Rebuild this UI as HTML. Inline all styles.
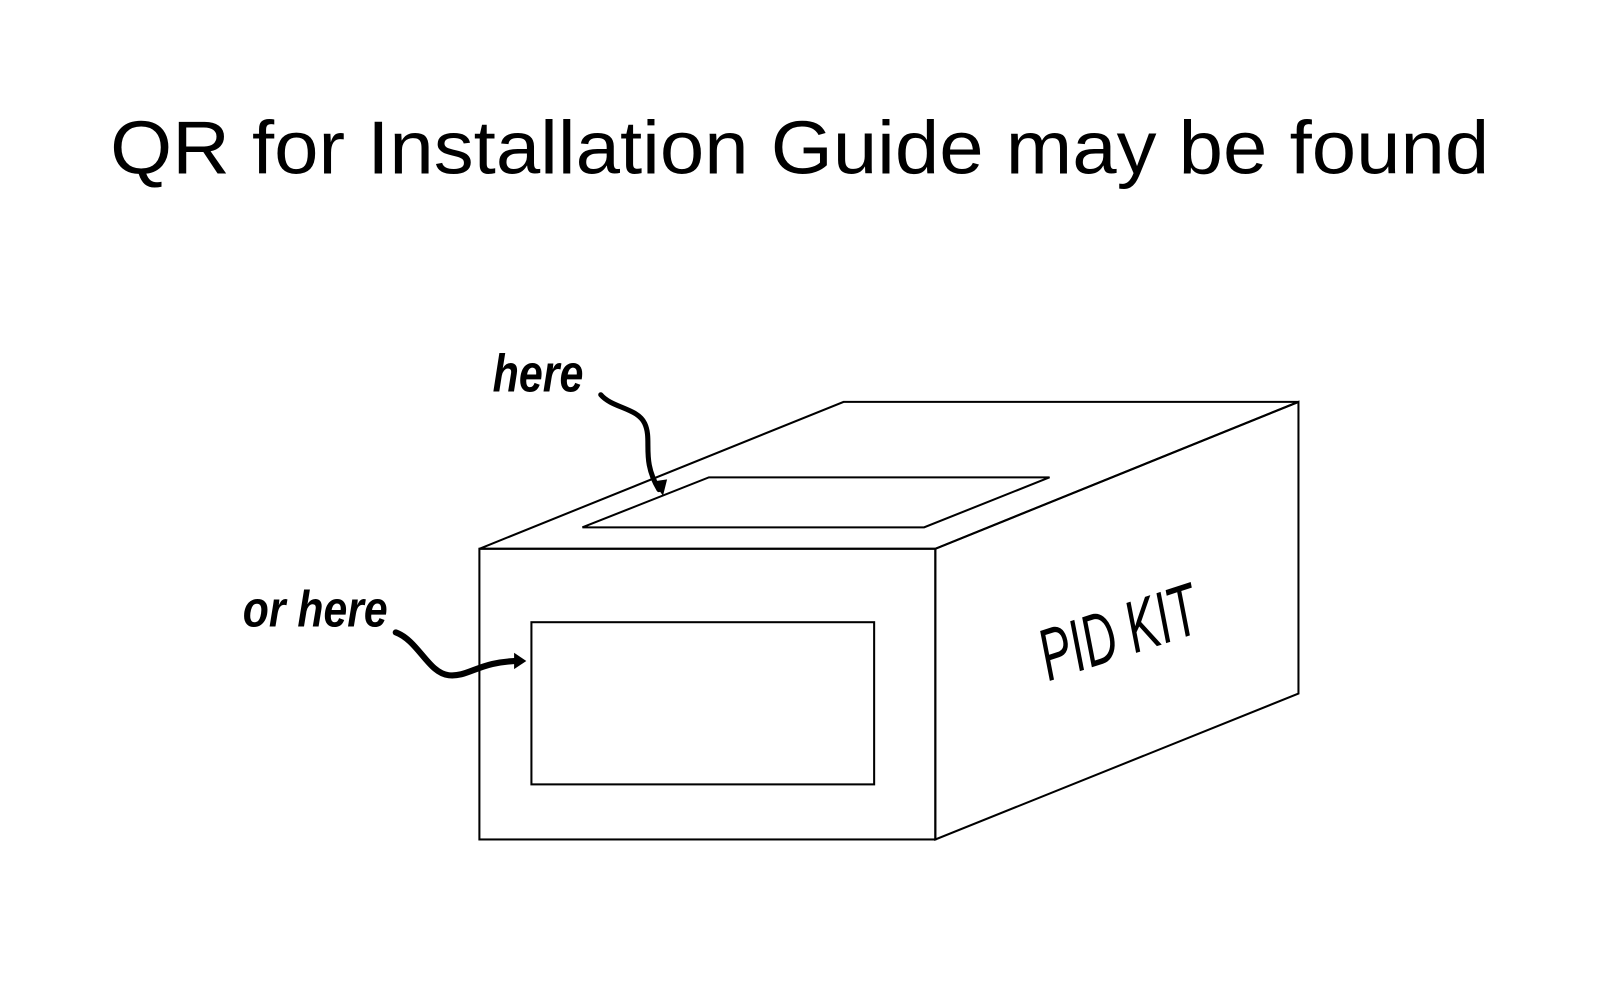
<!DOCTYPE html>
<html><head><meta charset="utf-8"><style>html,body{margin:0;padding:0;background:#fff}svg{display:block}</style></head>
<body>
<svg width="1600" height="997" viewBox="0 0 1600 997" xmlns="http://www.w3.org/2000/svg">
<g transform="scale(1.02)">
<text x="108" y="170" font-family="Liberation Sans Narrow, Liberation Sans, sans-serif" font-size="74" textLength="1352" lengthAdjust="spacingAndGlyphs" fill="#000">QR for Installation Guide may be found</text>
<g fill="none" stroke="#000" stroke-width="2">
<polygon points="470,538 827,394 1273,394 917,538"/>
<rect x="470" y="538" width="447" height="285"/>
<polygon points="917,538 1273,394 1273,680 917,823"/>
<polygon points="571,517 695,468 1029,468 906,517"/>
<rect x="521" y="610" width="336" height="159"/>
</g>
<g fill="none" stroke="#000" stroke-linecap="round">
<path d="M589,387 C600,400 625,400 632,415 C640,432 628,450 646,480" stroke-width="5"/>
<path d="M388,620 C410,628 420,660 440,662 C460,664 470,648 510,648" stroke-width="6"/>
</g>
<path d="M640,472 L650,486 L654,470 Z" fill="#000"/>
<path d="M504,640 L516,648 L504,656 Z" fill="#000"/>
<text x="483" y="384" font-family="Liberation Sans Narrow, Liberation Sans, sans-serif" font-style="italic" font-weight="bold" font-size="52" textLength="89" lengthAdjust="spacingAndGlyphs">here</text>
<text x="238" y="614" font-family="Liberation Sans Narrow, Liberation Sans, sans-serif" font-style="italic" font-weight="bold" font-size="50" textLength="142" lengthAdjust="spacingAndGlyphs">or here</text>
<text x="0" y="0" transform="translate(1028,668) rotate(-18)" font-family="Liberation Sans Narrow, Liberation Sans, sans-serif" font-style="italic" font-size="72" textLength="160" lengthAdjust="spacingAndGlyphs">PID KIT</text>
</g>
</svg>
</body></html>
